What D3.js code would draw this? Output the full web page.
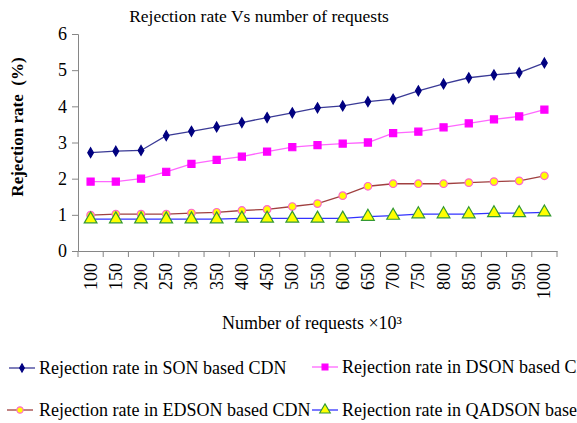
<!DOCTYPE html>
<html><head><meta charset="utf-8">
<script src="https://cdn.jsdelivr.net/npm/d3@7/dist/d3.min.js"></script>
<style>body{margin:0;background:#fff}svg{display:block}svg text{font-family:'Liberation Serif','Times New Roman',serif !important}</style>
</head><body><svg id="c" width="577" height="423"></svg>
<script>
const categories = ["100","150","200","250","300","350","400","450","500","550","600","650","700","750","800","850","900","950","1000"];
const son    = [2.72,2.76,2.78,3.19,3.31,3.43,3.55,3.69,3.82,3.96,4.01,4.13,4.2,4.43,4.62,4.79,4.87,4.93,5.2];
const dson   = [1.92,1.92,2.0,2.19,2.41,2.52,2.61,2.75,2.87,2.93,2.97,3.0,3.26,3.3,3.42,3.53,3.64,3.72,3.91];
const edson  = [0.99,1.02,1.02,1.02,1.05,1.07,1.12,1.15,1.23,1.31,1.53,1.79,1.86,1.86,1.86,1.89,1.92,1.94,2.08];
const qadson = [0.88,0.88,0.88,0.88,0.88,0.88,0.9,0.9,0.9,0.9,0.9,0.95,0.98,1.02,1.02,1.02,1.05,1.05,1.07];
const yTicks = [0,1,2,3,4,5,6];
const seriesNames = ["Rejection rate in SON based CDN","Rejection rate in DSON based CDN","Rejection rate in EDSON based CDN","Rejection rate in QADSON based CDN"];

const svg = d3.select("#c");
const x = d3.scaleBand().domain(categories).range([78,557]);
const y = d3.scaleLinear().domain([0,6]).range([251,34]);
const axisColor = "#868686";
const serif = "'Liberation Serif', 'Times New Roman', serif";

const series = [
  {name:seriesNames[0], values:son, line:"#3a3a96", fill:"#000080", stroke:"#000080", sym:d3.symbolDiamond, size:28},
  {name:seriesNames[1], values:dson, line:"#ff66ff", fill:"#ff00ff", stroke:"#ff00ff", sym:d3.symbolSquare, size:50},
  {name:seriesNames[2], values:edson, line:"#a04040", fill:"#ffff00", stroke:"#ff66cc", sym:d3.symbolCircle, size:45},
  {name:seriesNames[3], values:qadson, line:"#3333ff", fill:"#ffff00", stroke:"#339933", sym:d3.symbolTriangle, size:70}
];

// axes
const ya = svg.append("g").attr("transform","translate(78,0)")
  .call(d3.axisLeft(y).tickValues(yTicks).tickSize(6).tickPadding(5).tickFormat(d3.format("d")));
ya.attr("font-family",serif);
ya.selectAll("text").attr("font-size",18).attr("fill","#000").attr("font-family",serif);
const xa = svg.append("g").attr("transform","translate(0,251)")
  .call(d3.axisBottom(x).tickValues([]).tickSizeOuter(0));
xa.attr("font-family",serif);
// category boundary ticks
xa.selectAll(".bt").data(categories.concat(["_end"])).enter().append("line")
  .attr("x1",(d,i)=>78+i*x.step()).attr("x2",(d,i)=>78+i*x.step())
  .attr("y1",0).attr("y2",6).attr("stroke",axisColor);
xa.selectAll(".lbl").data(categories).enter().append("text")
  .attr("transform",d=>`translate(${x(d)+x.bandwidth()/2+6},12) rotate(-90)`)
  .attr("text-anchor","end").attr("font-size",18).attr("fill","#000").attr("font-family",serif).text(d=>d);
svg.selectAll(".domain").attr("stroke",axisColor);
svg.selectAll(".tick line").attr("stroke",axisColor);

// lines and markers
series.forEach(s=>{
  const pts = s.values.map((v,i)=>[x(categories[i])+x.bandwidth()/2, y(v)]);
  svg.append("path").attr("d",d3.line()(pts)).attr("fill","none").attr("stroke",s.line).attr("stroke-width",1.3);
  svg.append("g").selectAll("path").data(pts).enter().append("path")
    .attr("d",d3.symbol().type(s.sym).size(s.size))
    .attr("transform",p=>`translate(${p[0]},${p[1]})`)
    .attr("fill",s.fill).attr("stroke",s.stroke).attr("stroke-width",1.2);
});

// titles
svg.append("text").attr("x",259).attr("y",22).attr("text-anchor","middle").attr("font-size",17.5).attr("font-family",serif).text("Rejection rate Vs number of requests");
svg.append("text").attr("transform","translate(23,127) rotate(-90)").attr("text-anchor","middle").attr("font-size",17).attr("font-weight","bold").attr("font-family",serif).attr("xml:space","preserve").text("Rejection rate  (%)");
svg.append("text").attr("x",312).attr("y",329).attr("text-anchor","middle").attr("font-size",18).attr("font-family",serif).text("Number of requests ×10³");

// legend
const legPos = [[9,368,39],[312,367,342],[7,410,39],[312,410,342]];
series.forEach((s,i)=>{
  const [lx,ly,tx] = legPos[i];
  const g = svg.append("g");
  g.append("line").attr("x1",lx).attr("x2",lx+26).attr("y1",ly).attr("y2",ly).attr("stroke",s.line).attr("stroke-width",1.3);
  g.append("path").attr("d",d3.symbol().type(s.sym).size(s.size*0.7)).attr("transform",`translate(${lx+13},${ly})`)
    .attr("fill",s.fill).attr("stroke",s.stroke).attr("stroke-width",1.1);
  g.append("text").attr("x",tx).attr("y",ly+6).attr("font-size",18).attr("font-family",serif).text(s.name);
});
</script></body></html>
